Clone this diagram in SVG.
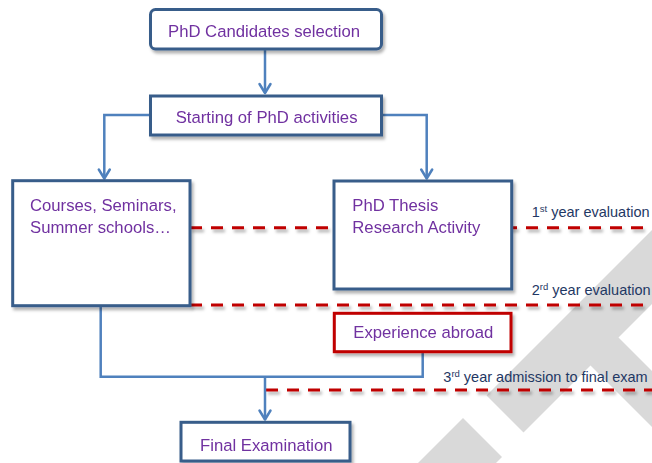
<svg xmlns="http://www.w3.org/2000/svg" width="652" height="463" viewBox="0 0 652 463">
  <style>
    .box { fill: #ffffff; stroke: #385d8a; stroke-width: 3; }
    .red { fill: #ffffff; stroke: #c00000; stroke-width: 3; }
    .lbl { font-family: "Liberation Sans", Arial, sans-serif; font-size: 16.7px; fill: #7030a0; }
    .note { font-family: "Liberation Sans", Arial, sans-serif; font-size: 14.5px; fill: #1f3864; }
    .sup { font-size: 9.5px; }
    .conn { fill: none; stroke: #4f81bd; stroke-width: 2.5; }
    .dash { fill: none; stroke: #c00000; stroke-width: 3; stroke-dasharray: 12 9; }
    .wm { fill: #d9d9d9; }
  </style>
  <defs>
    <filter id="sh" x="-10%" y="-10%" width="130%" height="140%">
      <feDropShadow dx="2" dy="3" stdDeviation="1.8" flood-color="#000000" flood-opacity="0.3"/>
    </filter>
    <marker id="arr" viewBox="-12 -8 14 16" refX="0" refY="0" markerWidth="14" markerHeight="16" markerUnits="userSpaceOnUse" orient="auto">
      <path d="M-9,-5.5 L0,0 L-9,5.5" fill="none" stroke="#4f81bd" stroke-width="2.5" stroke-linecap="round" stroke-linejoin="round"/>
    </marker>
  </defs>
  <rect width="652" height="463" fill="#ffffff"/>

  <g id="watermark">
    <polygon class="wm" points="486.5,395.5 886.5,-4.5 923.5,32.5 523.5,432.5"/>
    <polygon class="wm" points="600.5,319.5 1000,719 1000,775 572.5,347.5"/>
    <polygon class="wm" points="463,418 502,457 302,657 263,618"/>
  </g>

  <g id="milestones" filter="url(#sh)">
    <line class="dash" x1="190" y1="227.7" x2="652" y2="227.7"/>
    <line class="dash" x1="190" y1="305" x2="652" y2="305"/>
    <line class="dash" x1="266" y1="390" x2="652" y2="390"/>
  </g>

  <g id="connectors">
    <path class="conn" d="M265,49.5 V93" marker-end="url(#arr)"/>
    <path class="conn" d="M150,115 H104.3 V178.5" marker-end="url(#arr)"/>
    <path class="conn" d="M382,115 H426.7 V178.5" marker-end="url(#arr)"/>
    <path class="conn" d="M100.7,305.7 V376.7 H422.7 V351.7"/>
    <path class="conn" d="M265,376.7 V419.5" marker-end="url(#arr)"/>
  </g>

  <g id="n-selection" filter="url(#sh)">
    <rect class="box" x="150.5" y="9.5" width="231" height="39.5" rx="5"/>
    <text class="lbl" x="168" y="37.3">PhD Candidates selection</text>
  </g>
  <g id="n-start" filter="url(#sh)">
    <rect class="box" x="150.5" y="96" width="231" height="39"/>
    <text class="lbl" x="175.7" y="123.3">Starting of PhD activities</text>
  </g>
  <g id="n-courses" filter="url(#sh)">
    <rect class="box" x="12.7" y="180.7" width="177.3" height="125"/>
    <text class="lbl" x="30" y="210.7">Courses, Seminars,</text>
    <text class="lbl" x="30" y="233.3">Summer schools…</text>
  </g>
  <g id="n-thesis" filter="url(#sh)">
    <rect class="box" x="334" y="181" width="177.7" height="108"/>
    <text class="lbl" x="352.3" y="210.7">PhD Thesis</text>
    <text class="lbl" x="352.3" y="233.3">Research Activity</text>
  </g>
  <g id="n-abroad" filter="url(#sh)">
    <rect class="red" x="334.3" y="313.3" width="176.7" height="38.4"/>
    <text class="lbl" x="353.3" y="338">Experience abroad</text>
  </g>
  <g id="n-final" filter="url(#sh)">
    <rect class="box" x="181" y="422.3" width="169" height="38.7"/>
    <text class="lbl" x="200" y="450.7">Final Examination</text>
  </g>

  <g id="labels">
    <text class="note" x="531.7" y="216.7">1<tspan class="sup" dy="-5">st</tspan><tspan dy="5"> year evaluation</tspan></text>
    <text class="note" x="531.7" y="295">2<tspan class="sup" dy="-5">rd</tspan><tspan dy="5"> year evaluation</tspan></text>
    <text class="note" x="443.3" y="381.7">3<tspan class="sup" dy="-5">rd</tspan><tspan dy="5"> year admission to final exam</tspan></text>
  </g>
</svg>
